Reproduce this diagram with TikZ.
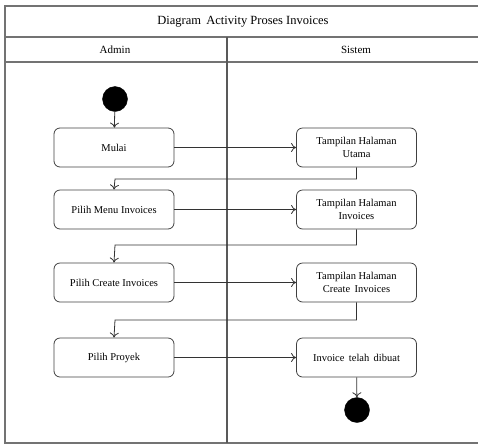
\documentclass[tikz,border=0pt]{standalone}
\usepackage{fontspec}
\setmainfont{Liberation Serif}
\usetikzlibrary{arrows.meta}
\begin{document}
\begin{tikzpicture}[x=1pt,y=-1pt,
  frame/.style={draw=black!55,line width=1.6pt},
  act/.style={draw=black!75,line width=0.8pt,rounded corners=6pt,minimum width=120pt,
    minimum height=39pt,align=center,font=\fontsize{10.5}{13}\selectfont,inner sep=2pt},
  dot/.style={circle,fill=black,draw=black,minimum size=25pt,inner sep=0pt},
  flow/.style={draw=black!80,line width=0.8pt,-{To[length=5pt,width=9pt]}}]
  \useasboundingbox (0,0) rectangle (478,445);
  % swimlane frame
  \draw[frame] (485,6) -- (5,6) -- (5,443) -- (485,443);
  \draw[frame] (5,37) -- (485,37);
  \draw[frame] (5,62) -- (485,62);
  \draw[draw=black!65,line width=1.2pt] (227,37) -- (227,443);
  \node[font=\fontsize{12.5}{14}\selectfont] (title) at (243,22) {Diagram\, Activity Proses Invoices};
  \node[font=\fontsize{11}{13}\selectfont] (laneA) at (115,50) {Admin};
  \node[font=\fontsize{11}{13}\selectfont] (laneS) at (356,50) {Sistem};
  % nodes
  \node[dot] (start) at (115,99) {};
  \node[act] (a1) at (114,147.5) {Mulai};
  \node[act] (a2) at (114,209.5) {Pilih Menu Invoices};
  \node[act] (a3) at (114,282.5) {Pilih Create Invoices};
  \node[act] (a4) at (114,357.5) {Pilih Proyek};
  \node[act] (s1) at (356.5,147.5) {Tampilan Halaman\\Utama};
  \node[act] (s2) at (356.5,209.5) {Tampilan Halaman\\Invoices};
  \node[act] (s3) at (356.5,282.5) {Tampilan Halaman\\Create\, Invoices};
  \node[act] (s4) at (356.5,357.5) {Invoice\, telah\, dibuat};
  \node[dot] (stop) at (357,410) {};
  % flows
  \draw[flow] (start) -- (a1);
  \draw[flow] (a1) -- (s1);
  \draw[flow] (s1.south) |- (115,179) -- (a2.north);
  \draw[flow] (a2) -- (s2);
  \draw[flow] (s2.south) |- (115,245) -- (a3.north);
  \draw[flow] (a3) -- (s3);
  \draw[flow] (s3.south) |- (115,320) -- (a4.north);
  \draw[flow] (a4) -- (s4);
  \draw[flow] (s4) -- (stop);
\end{tikzpicture}
\end{document}
